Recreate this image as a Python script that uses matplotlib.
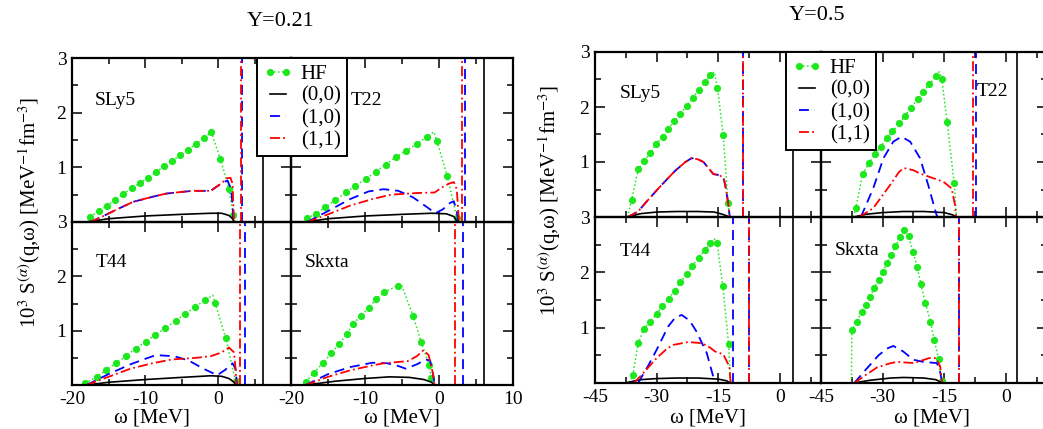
import matplotlib
matplotlib.use("Agg")
import matplotlib.pyplot as plt
from matplotlib.lines import Line2D
from matplotlib.ticker import FixedLocator, NullFormatter

plt.rcParams["font.family"] = ["Liberation Serif", "DejaVu Serif"]
plt.rcParams["mathtext.fontset"] = "stix"
plt.rcParams["axes.unicode_minus"] = False

W, H = 1043, 429

# ---------------- data (omega [MeV], 10^3 S) ----------------
# HF points: (omega, S, marker drawn?)
HF_SLY5_021 = [(-17.5, 0.10, 1), (-16.3, 0.20, 1), (-15.2, 0.30, 1), (-14.1, 0.40, 1),
               (-13.0, 0.51, 1), (-11.8, 0.62, 1), (-10.7, 0.71, 1), (-9.6, 0.81, 1),
               (-8.5, 0.91, 1), (-7.4, 1.02, 1), (-6.3, 1.12, 1), (-5.2, 1.22, 1),
               (-4.1, 1.32, 1), (-3.0, 1.43, 1), (-1.9, 1.54, 1), (-0.9, 1.64, 1),
               (0.3, 1.16, 1), (1.5, 0.61, 1), (2.1, 0.13, 1), (2.3, 0.0, 0)]
HF_T22_021 = [(-17.8, 0.07, 1), (-16.6, 0.15, 1), (-15.4, 0.27, 1), (-14.0, 0.40, 1),
              (-12.6, 0.54, 1), (-11.3, 0.66, 1), (-9.9, 0.79, 1), (-8.5, 0.92, 1),
              (-7.2, 1.05, 1), (-5.8, 1.19, 1), (-4.45, 1.30, 1), (-3.0, 1.43, 1),
              (-1.6, 1.56, 1), (-0.7, 1.65, 0), (-0.3, 1.49, 1), (1.1, 0.85, 1),
              (2.4, 0.08, 1), (2.6, 0.0, 0)]
HF_T44_021 = [(-18.2, 0.03, 1), (-16.6, 0.15, 1), (-15.4, 0.27, 1), (-14.0, 0.40, 1),
              (-12.6, 0.53, 1), (-11.3, 0.67, 1), (-9.9, 0.80, 1), (-8.6, 0.92, 1),
              (-7.2, 1.05, 1), (-5.8, 1.18, 1), (-4.5, 1.31, 1), (-3.1, 1.44, 1),
              (-1.8, 1.56, 1), (-0.7, 1.65, 0), (-0.4, 1.51, 1), (1.05, 0.87, 1),
              (2.4, 0.07, 1), (2.5, 0.0, 0)]
HF_SKXTA_021 = [(-18.0, 0.06, 1), (-16.9, 0.23, 1), (-15.7, 0.40, 1), (-14.6, 0.58, 1),
                (-13.5, 0.75, 1), (-12.5, 0.93, 1), (-11.6, 1.12, 1), (-10.6, 1.27, 1),
                (-9.5, 1.42, 1), (-8.5, 1.58, 1), (-7.4, 1.71, 1), (-5.5, 1.83, 1),
                (-5.1, 1.85, 0), (-3.5, 1.27, 1), (-2.4, 0.79, 1), (-1.3, 0.36, 1),
                (-1.1, 0.12, 1), (-0.8, 0.0, 0)]

S00_SLY5_021 = [(-18.0, 0.0), (-15, 0.06), (-10, 0.11), (-5, 0.14), (-1, 0.16),
                (0.5, 0.16), (1.5, 0.12), (2.0, 0.06), (2.2, 0.0)]
S10_SLY5_021 = [(-17.5, 0.0), (-16, 0.09), (-14, 0.22), (-11.6, 0.37), (-9, 0.46),
                (-7.1, 0.52), (-5, 0.55), (-3.5, 0.57), (-1.0, 0.57), (0.6, 0.72),
                (1.3, 0.76), (1.8, 0.6), (2.0, 0.3), (2.1, 0.0)]
S11_SLY5_021 = [(-17.5, 0.0), (-16, 0.09), (-14, 0.22), (-11.6, 0.37), (-9, 0.46),
                (-7.1, 0.52), (-5, 0.55), (-3.5, 0.57), (-1.0, 0.57), (0.6, 0.72),
                (1.2, 0.80), (1.7, 0.81), (2.0, 0.70), (2.1, 0.3), (2.2, 0.0)]

S00_T22_021 = [(-18.0, 0.0), (-15, 0.06), (-10, 0.11), (-5, 0.14), (-1, 0.16),
               (1, 0.15), (2, 0.1), (2.5, 0.0)]
S10_T22_021 = [(-17.8, 0.0), (-15, 0.2), (-12, 0.42), (-9.5, 0.56), (-7.5, 0.60),
               (-5.5, 0.57), (-3.5, 0.45), (-1.5, 0.26), (-0.5, 0.16), (0.5, 0.23),
               (1.5, 0.35), (2.0, 0.38), (2.4, 0.2), (2.6, 0.0)]
S11_T22_021 = [(-17.8, 0.0), (-15, 0.14), (-12, 0.3), (-9, 0.42), (-6.5, 0.5),
               (-3, 0.53), (-0.6, 0.54), (0.5, 0.64), (1.3, 0.70), (2.0, 0.73),
               (2.4, 0.6), (2.6, 0.2), (2.7, 0.0)]

S00_T44_021 = [(-18.0, 0.0), (-15, 0.05), (-10, 0.1), (-5, 0.14), (-1, 0.17),
               (0.5, 0.16), (1.5, 0.12), (2.2, 0.05), (2.5, 0.0)]
S10_T44_021 = [(-18.0, 0.0), (-15, 0.2), (-12, 0.38), (-10, 0.48), (-8.5, 0.55),
               (-6, 0.53), (-4, 0.45), (-2, 0.3), (-0.1, 0.18), (1.0, 0.28),
               (2.0, 0.40), (2.4, 0.3), (2.6, 0.0)]
S11_T44_021 = [(-18.0, 0.0), (-15, 0.15), (-12, 0.3), (-9, 0.4), (-6.3, 0.47),
               (-3, 0.5), (-1.0, 0.53), (0.5, 0.6), (1.5, 0.69), (2.2, 0.6),
               (2.4, 0.3), (2.5, 0.0)]

S00_SKXTA_021 = [(-18.0, 0.0), (-14, 0.07), (-10, 0.12), (-6.7, 0.15), (-4, 0.14),
                 (-2, 0.1), (-1, 0.05), (-0.6, 0.0)]
S10_SKXTA_021 = [(-18.0, 0.0), (-15, 0.2), (-12, 0.33), (-9, 0.41), (-7, 0.40),
                 (-5.5, 0.35), (-4.5, 0.30), (-3, 0.38), (-1.8, 0.47), (-1.2, 0.45),
                 (-0.8, 0.2), (-0.6, 0.0)]
S11_SKXTA_021 = [(-18.0, 0.0), (-15, 0.15), (-12, 0.27), (-9, 0.36), (-7.5, 0.40),
                 (-4.2, 0.44), (-3, 0.53), (-2.1, 0.64), (-1.4, 0.55), (-0.8, 0.2),
                 (-0.6, 0.0)]

HF_SLY5_050 = [(-37.1, 0.0, 0), (-36.1, 0.31, 1), (-34.5, 0.87, 1), (-33.1, 1.02, 1),
               (-31.5, 1.17, 1), (-30.2, 1.32, 1), (-28.5, 1.46, 1), (-27.2, 1.60, 1),
               (-25.7, 1.75, 1), (-24.2, 1.87, 1), (-22.7, 2.02, 1), (-21.2, 2.17, 1),
               (-19.7, 2.31, 1), (-18.2, 2.45, 1), (-16.9, 2.58, 1), (-16.0, 2.64, 0),
               (-15.2, 2.35, 1), (-13.8, 1.49, 1), (-12.6, 0.25, 1), (-12.3, 0.0, 0)]
HF_T22_050 = [(-37.1, 0.0, 0), (-36.5, 0.17, 1), (-34.9, 0.78, 1), (-33.2, 0.99, 1),
              (-31.9, 1.14, 1), (-30.5, 1.28, 1), (-29.0, 1.43, 1), (-27.6, 1.56, 1),
              (-25.9, 1.70, 1), (-24.6, 1.84, 1), (-23.1, 1.99, 1), (-21.5, 2.14, 1),
              (-20.1, 2.28, 1), (-18.6, 2.41, 1), (-17.0, 2.57, 1), (-16.2, 2.64, 0),
              (-15.6, 2.51, 1), (-14.3, 1.73, 1), (-12.6, 0.62, 1), (-12.0, 0.0, 0)]
HF_T44_050 = [(-36.5, 0.0, 0), (-35.8, 0.14, 1), (-34.5, 0.72, 1), (-33.1, 0.98, 1),
              (-31.6, 1.11, 1), (-30.0, 1.25, 1), (-28.6, 1.39, 1), (-27.1, 1.52, 1),
              (-25.6, 1.67, 1), (-24.2, 1.82, 1), (-22.7, 1.97, 1), (-21.4, 2.11, 1),
              (-19.8, 2.26, 1), (-18.3, 2.40, 1), (-16.9, 2.53, 1), (-16.0, 2.61, 0),
              (-15.3, 2.53, 1), (-13.9, 1.76, 1), (-12.5, 0.71, 1), (-12.0, 0.0, 0)]
HF_SKXTA_050 = [(-37.6, 0.0, 0), (-37.5, 0.96, 1), (-36.3, 1.11, 1), (-35.1, 1.29, 1),
                (-34.0, 1.41, 1), (-33.1, 1.55, 1), (-32.1, 1.71, 1), (-31.0, 1.86, 1),
                (-30.0, 2.01, 1), (-29.0, 2.16, 1), (-27.9, 2.32, 1), (-26.9, 2.47, 1),
                (-25.7, 2.63, 1), (-24.7, 2.76, 1), (-23.7, 2.65, 1), (-22.6, 2.37, 1),
                (-21.6, 2.10, 1), (-20.7, 1.79, 1), (-19.6, 1.45, 1), (-18.4, 1.11, 1),
                (-17.4, 0.77, 1), (-16.4, 0.43, 1), (-15.6, 0.03, 1)]

S00_SLY5_050 = [(-37.0, 0.0), (-34, 0.06), (-30, 0.09), (-25, 0.1), (-20, 0.1),
                (-16, 0.09), (-14, 0.05), (-12.2, 0.0)]
S10_SLY5_050 = [(-37.0, 0.0), (-34.5, 0.1), (-32.8, 0.25), (-29.2, 0.55), (-25.5, 0.84),
                (-23, 1.0), (-21.5, 1.07), (-20, 1.05), (-18.6, 1.0), (-16.2, 0.78),
                (-14.6, 0.76), (-13.6, 0.68), (-13.1, 0.5), (-12.5, 0.2), (-12.2, 0.0)]
S11_SLY5_050 = S10_SLY5_050

S00_T22_050 = [(-37.0, 0.0), (-34, 0.05), (-30, 0.08), (-25, 0.1), (-20, 0.1),
               (-15, 0.08), (-13, 0.04), (-12.0, 0.0)]
S10_T22_050 = [(-35.3, 0.0), (-32.3, 0.52), (-29.8, 1.07), (-27.4, 1.37), (-25.4, 1.46),
               (-23.3, 1.37), (-20.9, 1.07), (-18.9, 0.58), (-16.9, 0.04), (-16.6, 0.0)]
S11_T22_050 = [(-35.7, 0.0), (-32.3, 0.16), (-28.2, 0.58), (-26, 0.82), (-24.8, 0.89),
               (-22.5, 0.85), (-20.9, 0.79), (-15.2, 0.64), (-13.2, 0.52), (-12.4, 0.22),
               (-12.1, 0.0)]

S00_T44_050 = [(-37.7, 0.0), (-34, 0.06), (-30, 0.08), (-25, 0.09), (-20, 0.09),
               (-15, 0.07), (-13, 0.04), (-12.0, 0.0)]
S10_T44_050 = [(-34.5, 0.0), (-32, 0.32), (-30, 0.6), (-27.2, 1.02), (-25.5, 1.18),
               (-23.9, 1.23), (-22, 1.13), (-20.3, 0.93), (-17.8, 0.54), (-15.8, 0.0)]
S11_T44_050 = [(-35.5, 0.0), (-33.6, 0.15), (-30, 0.45), (-27.5, 0.62), (-25.9, 0.69),
               (-22.3, 0.74), (-19, 0.72), (-17, 0.64), (-15.8, 0.57), (-13.8, 0.52),
               (-12.3, 0.3), (-12.0, 0.0)]

S00_SKXTA_050 = [(-37.0, 0.0), (-33, 0.05), (-28, 0.09), (-24.9, 0.1), (-20, 0.09),
                 (-17, 0.06), (-15.5, 0.0)]
S10_SKXTA_050 = [(-36.9, 0.0), (-34, 0.25), (-31, 0.5), (-29, 0.62), (-27.4, 0.67),
                 (-25, 0.57), (-22.5, 0.42), (-20, 0.38), (-16.8, 0.36), (-16, 0.2),
                 (-15.5, 0.0)]
S11_SKXTA_050 = [(-36.9, 0.0), (-34, 0.15), (-31.4, 0.28), (-28, 0.36), (-26.5, 0.38),
                 (-22.3, 0.36), (-18.7, 0.45), (-17, 0.45), (-16, 0.3), (-15.5, 0.0)]

# collective modes (vertical lines)
V10_SLY5_021, V11_SLY5_021, V00_SLY5_021 = [3.25], [3.1], [6.15]
V10_T22_021, V11_T22_021, V00_T22_021 = [3.5], [3.1], [6.1]
V10_T44_021, V11_T44_021, V00_T44_021 = [3.7], [3.0], [6.15]
V10_SKXTA_021, V11_SKXTA_021, V00_SKXTA_021 = [3.2], [2.1], [6.1]
V10_SLY5_050, V11_SLY5_050, V00_SLY5_050 = [-8.9], [-8.9], [3.2]
V10_T22_050, V11_T22_050, V00_T22_050 = [-7.4], [-8.1], [2.8]
V10_T44_050, V11_T44_050, V00_T44_050 = [-11.5, -7.5], [-7.5], [3.2]
V10_SKXTA_050, V11_SKXTA_050, V00_SKXTA_050 = [-11.3], [-11.3], [2.8]

FORCES = ["SLy5", "T22", "T44", "Skxta"]
LEGEND_LABELS = ["HF", "(0,0)", "(1,0)", "(1,1)"]

GREEN = "#1de81d"
HF_STYLE = dict(color=GREEN, ls=(0, (1, 1.6)), lw=1.1, marker="o", ms=5.2, mec="none")
S00_STYLE = dict(color="black", ls="-", lw=1.2)
S10_STYLE = dict(color="blue", ls=(0, (5.5, 3.3)), lw=1.3)
S11_STYLE = dict(color="red", ls=(0, (5.5, 1.8, 1.0, 1.8)), lw=1.3)


def px_box(x0, y0, x1, y1):
    return [x0 / W, 1 - y1 / H, (x1 - x0) / W, (y1 - y0) / H]


def draw_panel(ax, hf, s00, s10, s11, v10, v11, v00):
    marks = [i for i, p in enumerate(hf) if p[2]]
    ax.plot([p[0] for p in hf], [p[1] for p in hf], markevery=marks, **HF_STYLE)
    ax.plot([p[0] for p in s00], [p[1] for p in s00], **S00_STYLE)
    ax.plot([p[0] for p in s10], [p[1] for p in s10], **S10_STYLE)
    ax.plot([p[0] for p in s11], [p[1] for p in s11], **S11_STYLE)
    for v in v00:
        ax.axvline(v, **S00_STYLE)
    for v in v10:
        ax.axvline(v, **S10_STYLE)
    for v in v11:
        ax.axvline(v, **S11_STYLE)


def style_axes(ax, xlim, xmaj, xmin, show_x, show_y):
    ax.set_xlim(*xlim)
    ax.set_ylim(0, 3)
    ax.xaxis.set_major_locator(FixedLocator(xmaj))
    ax.xaxis.set_minor_locator(FixedLocator(xmin))
    ax.yaxis.set_major_locator(FixedLocator([1, 2, 3]))
    ax.yaxis.set_minor_locator(FixedLocator([0.5, 1.5, 2.5]))
    ax.tick_params(which="both", direction="in", top=True, right=True, width=1.1,
                   labelsize=14)
    ax.tick_params(which="major", length=7)
    ax.tick_params(which="minor", length=4.5)
    ax.tick_params(axis="x", pad=4)
    ax.tick_params(axis="y", pad=4)
    if not show_x:
        ax.xaxis.set_major_formatter(NullFormatter())
    if not show_y:
        ax.yaxis.set_major_formatter(NullFormatter())
    for s in ax.spines.values():
        s.set_linewidth(1.6)
    ax.patch.set_alpha(0)


fig = plt.figure(figsize=(W / 100, H / 100), dpi=100)

groups = [
    dict(xs=(72, 291, 513), ys=(58, 222, 385), xlim=(-20, 10),
         xmaj_l=[-20, -10, 0], xmaj_r=[-20, -10, 0, 10], xmin=[-15, -5, 5],
         panels=[(HF_SLY5_021, S00_SLY5_021, S10_SLY5_021, S11_SLY5_021,
                  V10_SLY5_021, V11_SLY5_021, V00_SLY5_021),
                 (HF_T22_021, S00_T22_021, S10_T22_021, S11_T22_021,
                  V10_T22_021, V11_T22_021, V00_T22_021),
                 (HF_T44_021, S00_T44_021, S10_T44_021, S11_T44_021,
                  V10_T44_021, V11_T44_021, V00_T44_021),
                 (HF_SKXTA_021, S00_SKXTA_021, S10_SKXTA_021, S11_SKXTA_021,
                  V10_SKXTA_021, V11_SKXTA_021, V00_SKXTA_021)],
         labels=[(0.105, 0.74), (0.27, 0.74), (0.11, 0.75), (0.063, 0.75)],
         title=("Y=0.21", 281, 22), legend=(257, 58),
         xlabels=(152, 402), ylabel=(30, 212)),
    dict(xs=(595, 821, 1047), ys=(52, 217, 383), xlim=(-45, 10),
         xmaj_l=[-45, -30, -15, 0], xmaj_r=[-45, -30, -15, 0],
         xmin=[-37.5, -22.5, -7.5, 7.5],
         panels=[(HF_SLY5_050, S00_SLY5_050, S10_SLY5_050, S11_SLY5_050,
                  V10_SLY5_050, V11_SLY5_050, V00_SLY5_050),
                 (HF_T22_050, S00_T22_050, S10_T22_050, S11_T22_050,
                  V10_T22_050, V11_T22_050, V00_T22_050),
                 (HF_T44_050, S00_T44_050, S10_T44_050, S11_T44_050,
                  V10_T44_050, V11_T44_050, V00_T44_050),
                 (HF_SKXTA_050, S00_SKXTA_050, S10_SKXTA_050, S11_SKXTA_050,
                  V10_SKXTA_050, V11_SKXTA_050, V00_SKXTA_050)],
         labels=[(0.11, 0.75), (0.69, 0.76), (0.11, 0.79), (0.062, 0.80)],
         title=("Y=0.5", 817, 16), legend=(786, 52),
         xlabels=(708, 932), ylabel=(550, 200)),
]

for g in groups:
    x0, x1, x2 = g["xs"]
    y0, y1, y2 = g["ys"]
    boxes = [px_box(x0, y0, x1, y1), px_box(x1, y0, x2, y1),
             px_box(x0, y1, x1, y2), px_box(x1, y1, x2, y2)]
    for k, (box, data, force, lab) in enumerate(zip(boxes, g["panels"], FORCES, g["labels"])):
        ax = fig.add_axes(box)
        draw_panel(ax, *data)
        left = k % 2 == 0
        bottom = k >= 2
        style_axes(ax, g["xlim"], g["xmaj_l"] if left else g["xmaj_r"], g["xmin"],
                   show_x=bottom, show_y=left)
        ax.text(lab[0], lab[1], force, transform=ax.transAxes, fontsize=14,
                va="center", ha="left")

    t, tx, ty = g["title"]
    fig.text(tx / W, 1 - ty / H, t, fontsize=16, ha="center", va="center")
    for lx in g["xlabels"]:
        fig.text(lx / W, 1 - 418 / H, "ω [MeV]", fontsize=15, ha="center", va="center")
    fig.text(g["ylabel"][0] / W, 1 - g["ylabel"][1] / H,
             "10$^3$ S$^{(\\alpha)}$(q,ω) [MeV$^{-1}$fm$^{-3}$]",
             fontsize=15, rotation=90, ha="center", va="center")

    handles = [Line2D([], [], **HF_STYLE), Line2D([], [], **S00_STYLE),
               Line2D([], [], **S10_STYLE), Line2D([], [], **S11_STYLE)]
    lx, ly = g["legend"]
    leg = fig.legend(handles, LEGEND_LABELS, loc="upper left",
                     bbox_to_anchor=(lx / W, 1 - ly / H), borderaxespad=0,
                     fontsize=15, frameon=True, fancybox=False, numpoints=2,
                     handlelength=1.4, handletextpad=0.4, labelspacing=0.12,
                     borderpad=0.3)
    leg.get_frame().set_edgecolor("black")
    leg.get_frame().set_linewidth(1.4)
    leg.get_frame().set_alpha(1)
    leg.set_zorder(10)

fig.savefig("out.png", dpi=100)
